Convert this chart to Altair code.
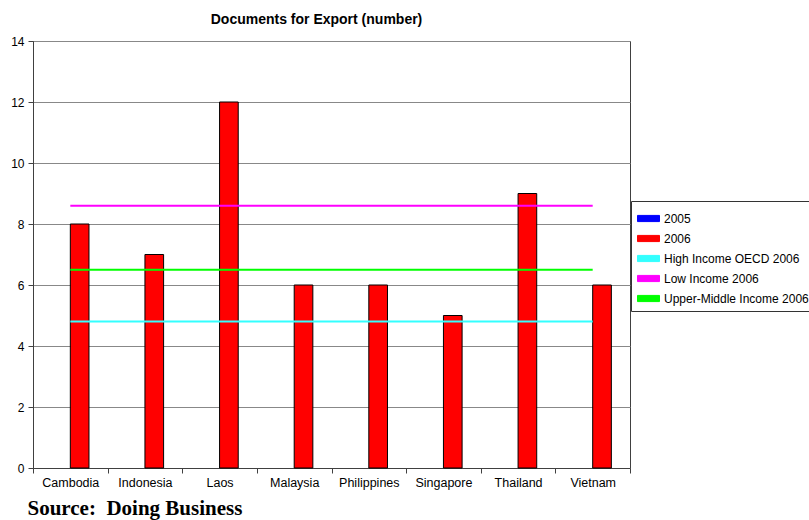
import altair as alt
import pandas as pd

categories = ["Cambodia", "Indonesia", "Laos", "Malaysia", "Philippines",
              "Singapore", "Thailand", "Vietnam"]
docs_2006 = [8, 7, 12, 6, 6, 5, 9, 6]
bar_series = ["2005", "2006"]
line_series = ["High Income OECD 2006", "Low Income 2006", "Upper-Middle Income 2006"]
line_values = [4.8, 8.6, 6.5]
legend_order = bar_series + line_series
colors = ["#0000FF", "#FF0000", "#33FFFF", "#FF00FF", "#00FF00"]
y_ticks = [0, 2, 4, 6, 8, 10, 12, 14]

bars_df = pd.DataFrame({"country": categories, "series": "2006", "value": docs_2006})
lines_df = pd.DataFrame([
    {"country": c, "series": s, "value": v}
    for s, v in zip(line_series, line_values)
    for c in (categories[0], categories[-1])
])

x = alt.X("country:N", sort=categories,
          scale=alt.Scale(paddingInner=0, paddingOuter=0),
          axis=alt.Axis(title="Source:\u00a0 Doing Business", labelAngle=0, tickBand="extent",
                        tickSize=5, labelPadding=3, labelFontSize=12.5, labelColor="black",
                        domainColor="#404040", tickColor="#404040",
                        titleFont="Liberation Serif", titleFontWeight="bold", titleFontSize=21,
                        titleColor="black", titleAnchor="start", titleAlign="left",
                        titleBaseline="alphabetic", titleX=-6, titleY=46))
y = alt.Y("value:Q", scale=alt.Scale(domain=[0, 14], nice=False),
          axis=alt.Axis(values=y_ticks, title=None, grid=True, gridColor="#888888",
                        tickSize=5, labelPadding=4, labelFontSize=12, labelColor="black",
                        domainColor="#404040", tickColor="#404040"))

legend = alt.Legend(
    orient="none", legendX=598, legendY=160, title=None,
    strokeColor="#333333", fillColor="white", padding=6,
    labelFont="Liberation Sans", labelFontSize=12, labelColor="black",
    symbolType="M-1,-0.28H1V0.28H-1Z", symbolSize=484,
    symbolStrokeWidth=1, symbolStrokeColor="black",
    rowPadding=2, labelOffset=4, labelLimit=300,
)
color = alt.Color("series:N", scale=alt.Scale(domain=legend_order, range=colors), legend=legend)

bars = alt.Chart(bars_df).mark_bar(stroke="black", strokeWidth=1).encode(
    x=x, y=y,
    xOffset=alt.XOffset("series:N", scale=alt.Scale(domain=bar_series, paddingInner=0, paddingOuter=1)),
    color=color,
)
lines = alt.Chart(lines_df).mark_line(strokeWidth=2).encode(
    x=x, y=y, color=color, detail="series:N",
)

chart = alt.layer(bars, lines).properties(
    width=597, height=427,
    title=alt.Title("Documents for Export (number)", font="Liberation Sans", fontSize=14,
                    fontWeight="bold", color="black", anchor="middle", dx=-15, offset=8),
    padding={"left": 33, "top": 41, "right": 179, "bottom": 52},
    autosize=alt.AutoSizeParams(type="none"),
).configure(font="Liberation Sans").configure_view(stroke="#404040", strokeWidth=1)

chart.save("out.html", embed_options={"renderer": "svg", "actions": False})
